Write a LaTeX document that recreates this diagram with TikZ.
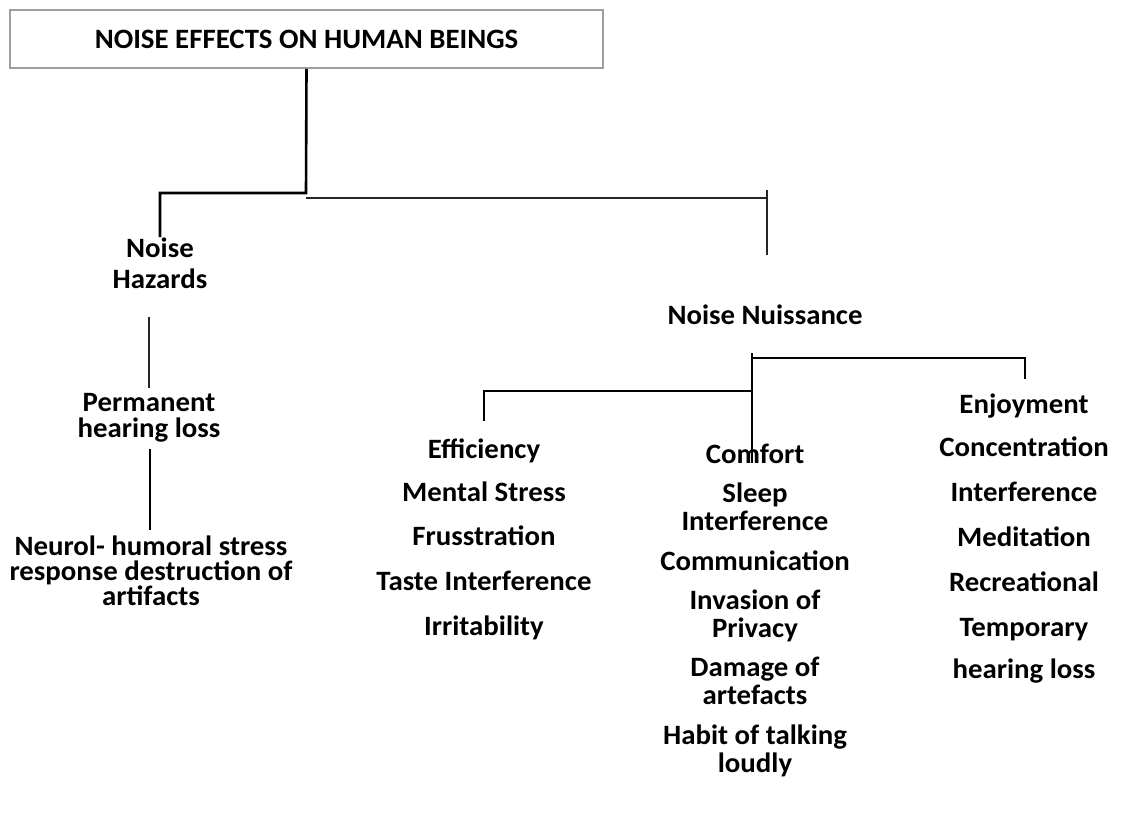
\documentclass[tikz,border=0pt]{standalone}
\usepackage{fontspec}
\setmainfont{Carlito}[FakeStretch=1.03]
\begin{document}
\begin{tikzpicture}[x=1pt,y=-1pt,
  every node/.style={font=\fontsize{28}{30}\selectfont\bfseries, inner sep=0pt, align=center},
  lbl/.style={anchor=base},
  tight/.style={font=\fontsize{28}{28}\selectfont\bfseries},
  heavyln/.style={line width=2.6pt, black},
  lightln/.style={line width=1.2pt, black!85},
  midln/.style={line width=2pt, black}]
\useasboundingbox (0,0) rectangle (1129,823);

% heading box
\node[draw=black!38, line width=1.6pt, minimum width=593pt, minimum height=58pt] (top) at (306.5,39) {NOISE EFFECTS ON HUMAN BEINGS};

% left branch (base = baseline of last line)
\node[lbl, font=\fontsize{28}{31}\selectfont\bfseries] (haz) at (160,288) {Noise\\Hazards};
\node[lbl, font=\fontsize{28}{26}\selectfont\bfseries] (perm) at (149,437) {Permanent\\hearing loss};
\node[lbl, font=\fontsize{28}{25}\selectfont\bfseries] (neur) at (151,605) {Neurol- humoral stress\\response destruction of\\artifacts};

% right branch
\node[lbl] (nuis) at (765,324) {Noise Nuissance};

% efficiency column
\node[lbl] (e1) at (484,458) {Efficiency};
\node[lbl] (e2) at (484,501) {Mental Stress};
\node[lbl] (e3) at (484,545) {Frusstration};
\node[lbl] (e4) at (484,590) {Taste Interference};
\node[lbl] (e5) at (484,635) {Irritability};

% comfort column
\node[lbl] (c1) at (755,463) {Comfort};
\node[lbl, tight] (c2) at (755,530) {Sleep\\Interference};
\node[lbl] (c3) at (755,570) {Communication};
\node[lbl, tight] (c4) at (755,637) {Invasion of\\Privacy};
\node[lbl, tight] (c5) at (755,704) {Damage of\\artefacts};
\node[lbl, tight] (c6) at (755,772) {Habit of talking\\loudly};

% enjoyment column
\node[lbl] (j1) at (1024,413) {Enjoyment};
\node[lbl] (j2) at (1024,456) {Concentration};
\node[lbl] (j3) at (1024,501) {Interference};
\node[lbl] (j4) at (1024,546) {Meditation};
\node[lbl] (j5) at (1024,591) {Recreational};
\node[lbl] (j6) at (1024,636) {Temporary};
\node[lbl] (j7) at (1024,678) {hearing loss};

% connector points
\coordinate (k1) at (306,193);
\coordinate (k2) at (160,237);
\coordinate (t1) at (306,198);
\coordinate (t2) at (767,198);
\coordinate (t3) at (767,190);
\coordinate (t4) at (767,255);
\coordinate (l1) at (149,317);
\coordinate (l2) at (149,388);
\coordinate (l3) at (150,449);
\coordinate (l4) at (150,530);
\coordinate (n1) at (752,353);
\coordinate (n2) at (752,463);
\coordinate (n3) at (752,358);
\coordinate (n4) at (752,391);
\coordinate (r1) at (1025,379);
\coordinate (r2) at (484,421);

% connectors
\draw[heavyln] (top.south) -- (k1) -| (k2);
\draw[lightln] (t1) -- (t2);
\draw[lightln] (t3) -- (t4);
\draw[lightln] (l1) -- (l2);
\draw[midln] (l3) -- (l4);
\draw[heavyln] (n1) -- (n2);
\draw[heavyln] (n3) -| (r1);
\draw[heavyln] (n4) -| (r2);
\end{tikzpicture}
\end{document}
